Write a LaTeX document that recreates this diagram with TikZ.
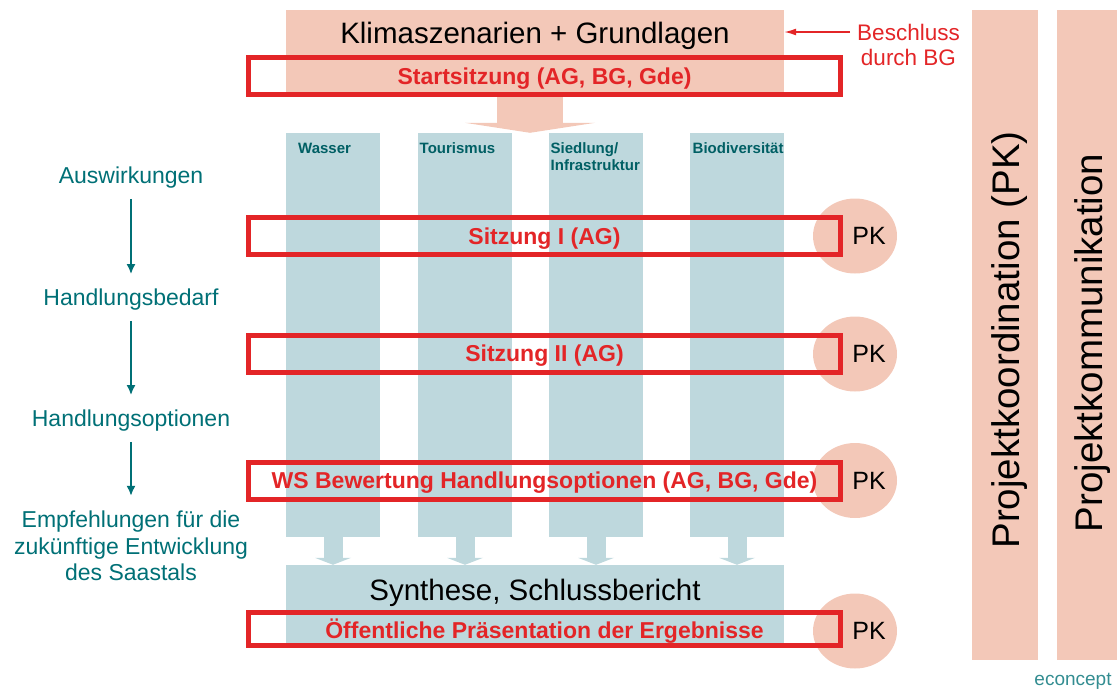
\documentclass[tikz,border=0pt]{standalone}
\usepackage{fontspec}
\setmainfont{Liberation Sans}
\usepackage{tikz}
\usetikzlibrary{arrows.meta,shapes.geometric}

\definecolor{lachs}{RGB}{243,200,184}
\definecolor{eisblau}{RGB}{190,216,221}
\definecolor{rot}{RGB}{227,37,39}
\definecolor{petrol}{RGB}{0,112,118}

\begin{document}
\begin{tikzpicture}[x=1pt,y=-1pt,>=latex,
    feld/.style={fill=#1, inner sep=0pt, minimum width=498pt},
    balken/.style={fill=eisblau, inner sep=0pt, minimum width=94pt, minimum height=404pt},
    thema/.style={anchor=north west, inner sep=0pt, align=left, text=petrol!85!black, font=\bfseries\fontsize{15}{17}\selectfont},
    sitzung/.style={draw=rot, line width=5pt, inner sep=0pt, text depth=0pt, minimum width=592pt, minimum height=37pt, text=rot, font=\bfseries\fontsize{23}{27}\selectfont},
    pk/.style={ellipse, fill=lachs, inner sep=0pt, minimum width=84pt, minimum height=75pt},
    links/.style={align=center, inner sep=0pt, text=petrol, font=\fontsize{23}{26.5}\selectfont},
    folge/.style={draw=petrol, line width=1.8pt, -{Latex[length=10pt,width=9pt]}, shorten <=10pt, shorten >=15pt},
    spalte/.style={fill=lachs, inner sep=0pt, minimum width=66pt, minimum height=650pt},
    gross/.style={font=\fontsize{29.5}{34}\selectfont},
    senkrecht/.style={rotate=90, inner sep=0pt, font=\fontsize{38.5}{42}\selectfont}]

    \useasboundingbox (0,0) rectangle (1117,689);

    \node[feld=lachs, minimum height=85pt] at (535,52.5) (top) {};
    \node[gross, anchor=base] at (535,43) (klima) {Klimaszenarien + Grundlagen};

    \node[balken] at (333,335) (wasser) {};
    \node[balken] at (465,335) (tourismus) {};
    \node[balken] at (596,335) (siedlung) {};
    \node[balken] at (737,335) (bio) {};
    \node[thema] at (298,142.5) (hw) {Wasser};
    \node[thema] at (419.5,142.5) (ht) {Tourismus};
    \node[thema] at (550.5,142.5) (hs) {Siedlung/\\Infrastruktur};
    \node[thema] at (692.5,142.5) (hb) {Biodiversität};

    \node[feld=eisblau, minimum height=80pt] at (535,605) (syn) {};
    \node[gross, anchor=base] at (535,600) (synthese) {Synthese, Schlussbericht};

    \coordinate (mitte) at (530,95);
    \draw[lachs, line width=66pt, -{Triangle[width=130pt,length=10pt,line width=0pt]}] (mitte) -- (mitte |- wasser.north);
    \foreach \s in {wasser,tourismus,siedlung,bio}
        \draw[eisblau, line width=19pt, -{Triangle[width=36pt,length=7pt,line width=0pt]}] (\s.south) -- (\s.south |- syn.north);

    \foreach \y/\n in {236/1,354/2,480.5/3,631/4} {
        \node[pk] at (855,\y) (pk\n) {};
        \node[font=\fontsize{25}{28}\selectfont] at ([xshift=14pt]pk\n.center) (pkt\n) {PK};
    }

    \node[sitzung] at (544.5,76) (start) {Startsitzung (AG, BG, Gde)};
    \node[sitzung] at (544.5,236) (s1) {Sitzung I (AG)};
    \node[sitzung] at (544.5,353.5) (s2) {Sitzung II (AG)};
    \node[sitzung] at (544.5,480.5) (ws) {WS Bewertung Handlungsoptionen (AG, BG, Gde)};
    \node[sitzung, minimum height=32.5pt] at (544.5,628.75) (oeff) {Öffentliche Präsentation der Ergebnisse};

    \node[align=center, inner sep=0pt, text=rot, font=\fontsize{22.5}{25}\selectfont] at (908.5,45) (beschluss) {Beschluss\\durch BG};
    \coordinate (bg) at (850,32);
    \draw[rot, line width=1.5pt, -{Latex[length=12pt,width=7pt]}] (bg) -- (bg -| top.east);

    \node[links] at (131,178) (aus) {Auswirkungen};
    \node[links] at (131,300) (bed) {Handlungsbedarf};
    \node[links] at (131,421) (opt) {Handlungsoptionen};
    \node[links] at (131,546) (emp) {Empfehlungen für die\\zukünftige Entwicklung\\des Saastals};
    \draw[folge] (aus) -- (bed);
    \draw[folge] (bed) -- (opt);
    \draw[folge] (opt) -- (emp);

    \node[spalte] at (1005,335) (koord) {};
    \node[senkrecht] at (1010,340) (koordtext) {Projektkoordination (PK)};
    \node[spalte] at (1090,335) (komm) {};
    \node[senkrecht] at (1093,343) (kommtext) {Projektkommunikation};

    \node[text=petrol!80, font=\fontsize{19}{22}\selectfont, anchor=base] at (1073,685) (econcept) {econcept};
\end{tikzpicture}
\end{document}
